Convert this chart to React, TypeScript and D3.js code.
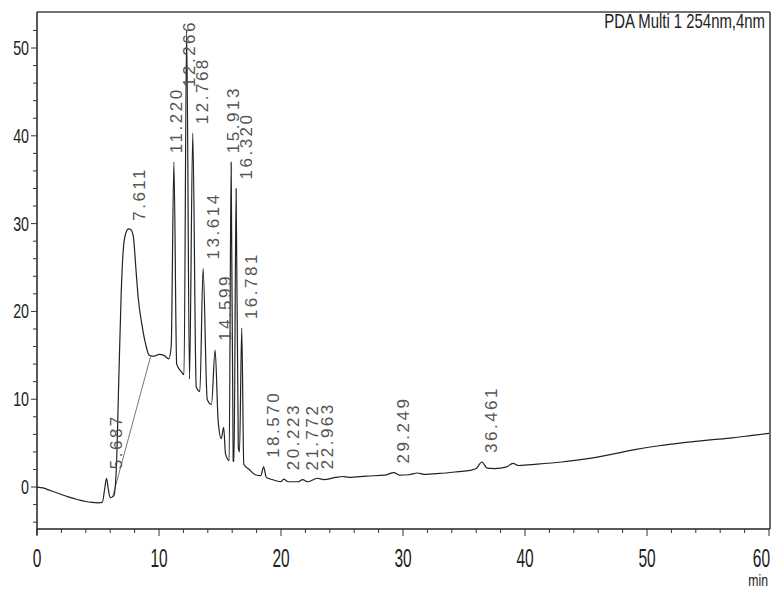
import React from 'react'
import { scaleLinear, line, curveMonotoneX, range } from 'd3'

const width = 771
const height = 591
const margin = { left: 37, right: 1, top: 12, bottom: 62 }

// retention time (min) / absorbance (mAU)
const times = [
  0, 0.5, 1, 1.5, 2, 2.5, 3, 3.5, 4, 4.5, 5, 5.35, 5.55, 5.7, 5.85, 6, 6.3, 6.5, 6.7, 6.9,
  7.1, 7.3, 7.5, 7.7, 7.9, 8.1, 8.3, 8.6, 8.9, 9.2, 9.6, 10, 10.4, 10.8, 11, 11.22, 11.45,
  11.8, 12.05, 12.266, 12.5, 12.768, 13.05, 13.35, 13.614, 13.95, 14.3, 14.599, 14.85, 15.1,
  15.3, 15.45, 15.75, 15.913, 16.08, 16.15, 16.32, 16.5, 16.6, 16.781, 16.95, 17.4, 17.9,
  18.35, 18.57, 18.8, 19.4, 20, 20.223, 20.6, 21.4, 21.772, 22.2, 22.6, 22.963, 23.5, 24.5,
  25, 25.6, 27, 28.5, 29.249, 29.7, 30.5, 31.2, 31.7, 33, 34.5, 35.5, 36, 36.461, 36.9, 37.5,
  38.5, 39, 39.5, 41, 43, 45, 47, 49, 51, 53, 55, 57, 59, 60
]
const signal = [
  0, -0.1, -0.35, -0.6, -0.85, -1.1, -1.3, -1.5, -1.65, -1.75, -1.8, -1.75, -0.2, 1.0, -0.3, -1.2, -1.0, 2, 12, 22,
  27.5, 29.0, 29.4, 29.3, 28.5, 25, 21.5, 18.5, 16.3, 15.0, 14.9, 15.1, 15.0, 14.6, 16, 37, 14.0,
  13.2, 12.8, 52, 12.3, 40.3, 11.4, 10.9, 24.9, 10.0, 9.4, 15.6, 7.5, 5.5,
  6.8, 3.8, 3.0, 37, 3.0, 2.9, 34, 4.5, 4.0, 18.1, 2.6, 2.0, 1.4,
  1.3, 2.3, 1.1, 0.8, 0.6, 0.9, 0.6, 0.6, 0.85, 0.6, 0.8, 1.0, 0.85, 1.1,
  1.2, 1.1, 1.25, 1.35, 1.65, 1.35, 1.4, 1.6, 1.45, 1.55, 1.75, 1.9, 2.1, 2.85, 2.15, 2.1,
  2.3, 2.7, 2.45, 2.6, 2.85, 3.2, 3.7, 4.25, 4.7, 5.05, 5.35, 5.6, 5.95, 6.1
]

// integration baseline under the 7.611 peak
const baseTimes = [6.2, 9.3]
const baseValues = [-1.1, 14.8]

const peakTimes = [5.687, 7.611, 11.22, 12.266, 12.768, 13.614, 14.599, 15.913, 16.32, 16.781, 18.57, 20.223, 21.772, 22.963, 29.249, 36.461]
const peakLabels = ['5.687', '7.611', '11.220', '12.266', '12.768', '13.614', '14.599', '15.913', '16.320', '16.781', '18.570', '20.223', '21.772', '22.963', '29.249', '36.461']

const xMajor = [0, 10, 20, 30, 40, 50, 60]
const yMajor = [0, 10, 20, 30, 40, 50]

const channelTitle = 'PDA Multi 1 254nm,4nm'
const xUnit = 'min'

const x = scaleLinear().domain([0, 60]).range([margin.left, width - 2])
const y = scaleLinear().domain([-4.78, 54.1]).range([height - margin.bottom, margin.top])

const sans = '"Liberation Sans", Arial, sans-serif'

function nearestValue(t: number) {
  let best = 0
  times.forEach((tt, i) => {
    if (Math.abs(tt - t) < Math.abs(times[best] - t)) best = i
  })
  return signal[best]
}

// place the rotated peak labels: above apex, kept inside the frame,
// nudged left when they would run into the next label
function placeLabels() {
  const labelLen = 67
  const out = peakTimes.map(t => {
    const bottomY = Math.max(y(nearestValue(t)) - 9, margin.top + 8 + labelLen)
    return { x: x(t) + 10, bottom: bottomY, top: bottomY - labelLen }
  })
  for (let i = out.length - 2; i >= 0; i--) {
    const a = out[i], b = out[i + 1]
    const overlap = a.top < b.bottom && b.top < a.bottom
    if (overlap && a.x > b.x - 13) a.x = b.x - 13
  }
  return out
}

export default function App() {
  const pts = times.map((t, i) => [t, signal[i]] as [number, number])
  const trace = line<[number, number]>()
    .x(d => x(d[0]))
    .y(d => y(d[1]))
    .curve(curveMonotoneX)

  const bottom = height - margin.bottom
  const right = width - 1
  const labels = placeLabels()

  return (
    <svg width={width} height={height} style={{ position: 'absolute', left: 0, top: 0, background: '#fff' }}>
      {/* frame */}
      <line x1={margin.left} x2={right} y1={margin.top} y2={margin.top} stroke="#444" strokeWidth={1.6} />
      <line x1={right} x2={right} y1={margin.top} y2={bottom} stroke="#444" strokeWidth={1.6} />

      {/* y axis */}
      <line x1={margin.left} x2={margin.left} y1={margin.top} y2={bottom + 6} stroke="#222" strokeWidth={1.5} />
      {range(-4, 54, 2).map(v => {
        const major = v % 10 === 0
        return <line key={'yt' + v} x1={margin.left - (major ? 6 : 4)} x2={margin.left} y1={y(v)} y2={y(v)} stroke="#333" strokeWidth={1} />
      })}
      {yMajor.map(v => (
        <text key={'yl' + v} transform={`translate(${margin.left - 8},${y(v)}) scale(0.68,1)`} textAnchor="end"
          dominantBaseline="central" fontFamily={sans} fontSize={21} fill="#222">{v}</text>
      ))}

      {/* x axis */}
      <line x1={margin.left} x2={right} y1={bottom} y2={bottom} stroke="#222" strokeWidth={1.5} />
      {range(0, 61, 2).map(v => {
        const major = v % 10 === 0
        return <line key={'xt' + v} x1={x(v)} x2={x(v)} y1={bottom} y2={bottom + (major ? 7 : 4)} stroke="#333" strokeWidth={1} />
      })}
      {xMajor.map(v => (
        <text key={'xl' + v} transform={`translate(${v === 60 ? width - 1 : x(v)},${bottom + 29}) scale(0.62,1)`}
          textAnchor={v === 60 ? 'end' : 'middle'} dominantBaseline="central" fontFamily={sans} fontSize={25} fill="#222">{v}</text>
      ))}
      <text transform={`translate(${width - 3},${height - 5}) scale(0.72,1)`} textAnchor="end" fontFamily={sans} fontSize={17} fill="#222">{xUnit}</text>

      <text transform={`translate(${right - 5},${28}) scale(0.71,1)`} textAnchor="end" fontFamily={sans} fontSize={21} fill="#222">{channelTitle}</text>

      {/* integration baseline */}
      <line x1={x(baseTimes[0])} x2={x(baseTimes[1])} y1={y(baseValues[0])} y2={y(baseValues[1])} stroke="#666" strokeWidth={0.9} />

      {/* trace */}
      <path d={trace(pts) || ''} fill="none" stroke="#222" strokeWidth={1.2} strokeLinejoin="round" />

      {/* peak labels */}
      {labels.map((l, i) => (
        <text key={'pk' + i} transform={`translate(${l.x},${l.bottom}) rotate(-90)`} dominantBaseline="central"
          fontFamily={sans} fontSize={17} letterSpacing={2.5} fill="#555">
          {peakLabels[i]}
        </text>
      ))}
    </svg>
  )
}
